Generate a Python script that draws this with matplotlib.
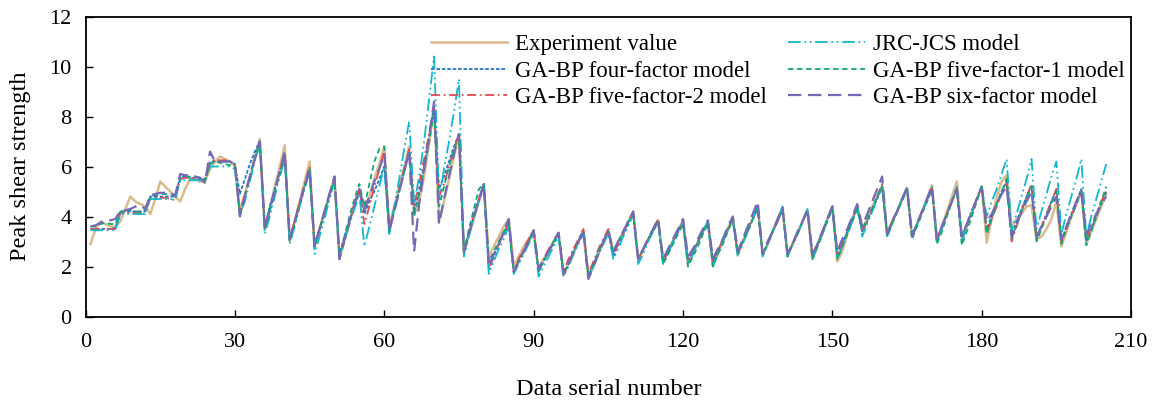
import numpy as np
import matplotlib
matplotlib.use('Agg')
import matplotlib.pyplot as plt

plt.rcParams['font.family'] = ['Liberation Serif', 'DejaVu Serif']

# Data (serial numbers 1..205)

experiment = [
    2.9, 3.5, 3.8, 3.7, 3.6, 3.6,
    3.8, 4.3, 4.8, 4.6, 4.5, 4.4,
    4.1, 4.7, 5.4, 5.2, 5.0, 4.8,
    4.6, 5.1, 5.5, 5.5, 5.4, 5.4,
    5.9, 6.2, 6.4, 6.3, 6.2, 6.0,
    4.2, 4.9, 5.6, 6.4, 7.1,
    3.5, 4.3, 5.2, 6.0, 6.85,
    3.0, 3.8, 4.6, 5.4, 6.2,
    2.8, 3.5, 4.2, 4.9, 5.6,
    2.3, 3.1, 3.8, 4.5, 5.1,
    4.2, 4.8, 5.5, 6.1, 6.8,
    3.6, 4.4, 5.2, 6.0, 6.8,
    4.1, 4.6, 5.6, 6.9, 8.4,
    3.8, 4.6, 5.5, 6.4, 7.3,
    2.5, 3.3, 3.9, 4.6, 5.3,
    2.4, 2.8, 3.2, 3.6, 3.9,
    2.0, 2.4, 2.8, 3.1, 3.45,
    1.9, 2.3, 2.6, 3.0, 3.35,
    1.65, 2.1, 2.5, 3.0, 3.45,
    1.55, 2.0, 2.5, 3.0, 3.45,
    2.6, 3.0, 3.4, 3.8, 4.15,
    2.25, 2.65, 3.05, 3.45, 3.85,
    2.25, 2.65, 3.05, 3.45, 3.85,
    2.1, 2.5, 2.95, 3.4, 3.8,
    2.05, 2.5, 3.0, 3.5, 3.95,
    2.5, 3.0, 3.5, 3.9, 4.4,
    2.45, 2.9, 3.4, 3.9, 4.35,
    2.45, 2.9, 3.35, 3.8, 4.25,
    2.3, 2.8, 3.3, 3.9, 4.4,
    2.2, 2.6, 3.3, 3.9, 4.4,
    3.5, 3.9, 4.4, 4.8, 5.25,
    3.3, 3.8, 4.2, 4.7, 5.15,
    3.2, 3.7, 4.2, 4.7, 5.25,
    3.0, 3.6, 4.2, 4.8, 5.4,
    3.1, 3.6, 4.2, 4.7, 5.2,
    2.95, 3.9, 4.8, 5.4, 5.65,
    3.6, 3.9, 4.1, 4.4, 4.45,
    3.1, 3.2, 3.5, 3.9, 4.6,
    2.8, 3.4, 4.0, 4.5, 5.0,
    2.9, 3.4, 3.9, 4.4, 4.9,
]

jrc_jcs = [
    3.45, 3.45, 3.45, 3.45, 3.45, 3.45,
    4.1, 4.1, 4.1, 4.1, 4.1, 4.1,
    4.7, 4.7, 4.7, 4.7, 4.7, 4.7,
    5.45, 5.45, 5.45, 5.45, 5.45, 5.45,
    6.0, 6.0, 6.0, 6.0, 6.0, 5.9,
    4.1, 4.6, 5.4, 6.2, 6.9,
    3.3, 4.0, 4.8, 5.6, 6.3,
    2.9, 3.6, 4.4, 5.1, 5.8,
    2.5, 3.2, 3.9, 4.7, 5.4,
    2.3, 3.0, 3.7, 4.3, 4.9,
    2.8, 3.6, 4.4, 5.2, 6.0,
    3.3, 4.4, 5.5, 6.7, 7.8,
    4.5, 5.6, 7.0, 8.7, 10.4,
    4.7, 5.9, 7.0, 8.2, 9.5,
    2.4, 3.2, 4.0, 4.7, 5.3,
    1.7, 2.2, 2.7, 3.1, 3.6,
    1.7, 2.1, 2.5, 2.9, 3.3,
    1.6, 2.0, 2.4, 2.8, 3.2,
    1.6, 2.0, 2.5, 2.9, 3.3,
    1.6, 2.0, 2.5, 2.9, 3.3,
    2.3, 2.7, 3.2, 3.6, 4.1,
    2.1, 2.5, 3.0, 3.4, 3.8,
    2.1, 2.5, 3.0, 3.4, 3.8,
    2.1, 2.5, 3.0, 3.4, 3.8,
    2.0, 2.5, 3.0, 3.4, 3.9,
    2.4, 2.9, 3.4, 3.9, 4.4,
    2.4, 2.9, 3.4, 3.9, 4.4,
    2.4, 2.9, 3.3, 3.8, 4.3,
    2.3, 2.8, 3.3, 3.9, 4.4,
    2.3, 2.8, 3.3, 3.8, 4.4,
    3.2, 3.7, 4.2, 4.7, 5.2,
    3.2, 3.7, 4.2, 4.7, 5.2,
    3.2, 3.7, 4.2, 4.7, 5.2,
    3.0, 3.5, 4.1, 4.6, 5.2,
    3.0, 3.6, 4.1, 4.7, 5.2,
    4.0, 4.6, 5.1, 5.7, 6.3,
    3.4, 4.1, 4.8, 5.5, 6.3,
    3.5, 4.2, 4.9, 5.6, 6.2,
    3.3, 4.1, 4.8, 5.5, 6.3,
    3.2, 4.0, 4.7, 5.4, 6.1,
]

four_factor = [
    3.5, 3.5, 3.5, 3.5, 3.5, 3.55,
    4.2, 4.2, 4.2, 4.2, 4.2, 4.2,
    4.8, 4.8, 4.8, 4.8, 4.8, 4.8,
    5.6, 5.6, 5.55, 5.55, 5.5, 5.5,
    6.2, 6.2, 6.2, 6.2, 6.2, 6.1,
    4.9, 5.5, 6.1, 6.6, 7.0,
    3.6, 4.4, 5.1, 5.8, 6.5,
    3.1, 3.8, 4.5, 5.2, 5.8,
    2.9, 3.5, 4.1, 4.8, 5.5,
    2.5, 3.2, 3.8, 4.4, 5.0,
    4.1, 4.6, 5.0, 5.5, 6.0,
    3.5, 4.3, 5.0, 5.8, 6.6,
    4.2, 5.0, 6.0, 7.2, 8.4,
    5.1, 5.6, 6.2, 6.8, 7.3,
    2.6, 3.3, 4.0, 4.6, 5.2,
    1.9, 2.4, 2.9, 3.3, 3.7,
    1.8, 2.2, 2.6, 3.0, 3.4,
    1.8, 2.2, 2.6, 2.9, 3.3,
    1.7, 2.1, 2.6, 3.0, 3.4,
    1.6, 2.1, 2.5, 3.0, 3.4,
    2.4, 2.9, 3.3, 3.7, 4.1,
    2.3, 2.7, 3.1, 3.5, 3.8,
    2.2, 2.6, 3.0, 3.4, 3.8,
    2.2, 2.6, 3.0, 3.4, 3.8,
    2.2, 2.6, 3.1, 3.5, 3.9,
    2.5, 3.0, 3.4, 3.9, 4.4,
    2.5, 2.9, 3.4, 3.8, 4.3,
    2.4, 2.9, 3.3, 3.8, 4.2,
    2.4, 2.9, 3.4, 3.9, 4.4,
    2.4, 2.9, 3.4, 3.9, 4.4,
    3.4, 3.8, 4.3, 4.7, 5.2,
    3.3, 3.8, 4.2, 4.7, 5.1,
    3.3, 3.7, 4.2, 4.6, 5.1,
    3.1, 3.6, 4.1, 4.6, 5.1,
    3.2, 3.7, 4.2, 4.7, 5.2,
    3.5, 4.0, 4.5, 5.0, 5.4,
    3.2, 3.8, 4.3, 4.8, 5.2,
    3.1, 3.6, 4.1, 4.6, 5.1,
    3.0, 3.6, 4.1, 4.6, 5.1,
    3.0, 3.5, 4.0, 4.5, 5.0,
]

five_factor_1 = [
    3.6, 3.6, 3.7, 3.75, 3.7, 3.7,
    4.2, 4.25, 4.25, 4.2, 4.2, 4.3,
    4.8, 4.85, 4.9, 4.9, 4.9, 4.85,
    5.5, 5.6, 5.6, 5.6, 5.55, 5.45,
    6.1, 6.2, 6.15, 6.1, 6.05, 6.0,
    4.0, 4.8, 5.6, 6.3, 7.0,
    3.5, 4.2, 5.0, 5.7, 6.4,
    3.0, 3.7, 4.5, 5.2, 5.9,
    2.8, 3.5, 4.2, 4.9, 5.5,
    2.4, 3.2, 4.0, 4.7, 5.3,
    4.4, 5.3, 6.2, 6.7, 6.8,
    3.4, 4.2, 5.0, 5.8, 6.6,
    4.0, 4.9, 5.9, 7.0, 8.2,
    4.4, 5.2, 6.0, 6.7, 7.2,
    2.6, 3.5, 4.3, 5.1, 5.3,
    2.2, 2.6, 3.0, 3.4, 3.8,
    1.8, 2.2, 2.6, 3.0, 3.4,
    1.8, 2.2, 2.6, 3.0, 3.3,
    1.7, 2.1, 2.6, 3.0, 3.4,
    1.6, 2.1, 2.6, 3.0, 3.4,
    2.6, 3.0, 3.4, 3.8, 4.1,
    2.3, 2.7, 3.1, 3.4, 3.8,
    2.1, 2.5, 2.9, 3.3, 3.7,
    2.0, 2.4, 2.8, 3.3, 3.7,
    2.0, 2.5, 2.9, 3.4, 3.9,
    2.5, 3.0, 3.4, 3.9, 4.3,
    2.5, 2.9, 3.4, 3.8, 4.3,
    2.4, 2.9, 3.3, 3.8, 4.2,
    2.3, 2.8, 3.3, 3.8, 4.3,
    2.3, 2.8, 3.3, 3.8, 4.3,
    3.5, 3.9, 4.3, 4.8, 5.2,
    3.2, 3.7, 4.2, 4.6, 5.1,
    3.1, 3.6, 4.1, 4.6, 5.1,
    2.9, 3.4, 4.0, 4.6, 5.1,
    2.85, 3.4, 4.0, 4.6, 5.2,
    3.3, 3.9, 4.5, 5.0, 5.5,
    3.1, 3.7, 4.2, 4.7, 5.2,
    3.0, 3.5, 4.0, 4.5, 5.0,
    2.9, 3.5, 4.0, 4.5, 5.0,
    2.85, 3.4, 4.0, 4.6, 5.2,
]

five_factor_2 = [
    3.5, 3.5, 3.5, 3.5, 3.5, 3.5,
    4.15, 4.15, 4.15, 4.15, 4.15, 4.2,
    4.7, 4.75, 4.75, 4.75, 4.7, 4.65,
    5.5, 5.55, 5.55, 5.5, 5.45, 5.45,
    6.2, 6.25, 6.25, 6.25, 6.2, 6.1,
    4.2, 4.9, 5.6, 6.3, 7.0,
    3.5, 4.3, 5.0, 5.8, 6.5,
    3.1, 3.8, 4.6, 5.3, 6.0,
    2.8, 3.5, 4.2, 4.9, 5.5,
    2.3, 3.0, 3.7, 4.4, 5.1,
    3.7, 4.4, 5.2, 5.9, 6.6,
    3.5, 4.3, 5.1, 5.9, 6.7,
    4.4, 5.3, 6.3, 7.3, 8.3,
    4.8, 5.3, 6.0, 6.7, 7.3,
    2.6, 3.4, 4.1, 4.7, 5.3,
    1.9, 2.4, 2.9, 3.3, 3.8,
    1.8, 2.3, 2.7, 3.1, 3.45,
    1.9, 2.3, 2.7, 3.0, 3.35,
    1.8, 2.3, 2.7, 3.1, 3.5,
    1.7, 2.2, 2.7, 3.1, 3.5,
    2.5, 2.9, 3.3, 3.8, 4.2,
    2.3, 2.7, 3.1, 3.5, 3.9,
    2.2, 2.6, 3.0, 3.4, 3.8,
    2.2, 2.6, 3.0, 3.4, 3.8,
    2.2, 2.6, 3.1, 3.5, 3.9,
    2.5, 3.0, 3.5, 3.9, 4.4,
    2.5, 2.9, 3.4, 3.8, 4.3,
    2.5, 2.9, 3.3, 3.8, 4.2,
    2.4, 2.9, 3.4, 3.9, 4.4,
    2.4, 2.9, 3.4, 3.9, 4.4,
    3.4, 3.8, 4.3, 4.8, 5.3,
    3.3, 3.8, 4.2, 4.7, 5.1,
    3.2, 3.7, 4.2, 4.7, 5.2,
    3.1, 3.6, 4.1, 4.6, 5.1,
    3.2, 3.7, 4.2, 4.7, 5.2,
    3.4, 3.9, 4.4, 4.9, 5.4,
    3.0, 3.6, 4.2, 4.8, 5.3,
    3.2, 3.6, 4.1, 4.6, 5.1,
    3.0, 3.5, 4.0, 4.5, 5.0,
    3.1, 3.6, 4.1, 4.6, 5.0,
]

six_factor = [
    3.6, 3.65, 3.75, 3.85, 3.85, 3.9,
    4.25, 4.25, 4.3, 4.4, 4.45, 4.3,
    4.85, 4.9, 4.95, 4.95, 4.9, 4.85,
    5.7, 5.65, 5.65, 5.6, 5.55, 5.35,
    6.6, 6.2, 6.2, 6.2, 6.2, 6.1,
    4.0, 4.8, 5.6, 6.3, 7.0,
    3.5, 4.3, 5.0, 5.8, 6.6,
    3.1, 3.8, 4.5, 5.2, 5.9,
    2.8, 3.5, 4.2, 4.9, 5.6,
    2.3, 3.1, 3.8, 4.5, 5.1,
    4.3, 4.8, 5.4, 5.9, 6.5,
    3.4, 4.2, 5.0, 5.8, 6.6,
    2.6, 4.5, 5.9, 7.2, 8.6,
    3.7, 4.7, 5.6, 6.5, 7.3,
    2.6, 3.3, 4.0, 4.7, 5.3,
    2.0, 2.5, 2.9, 3.4, 3.9,
    1.8, 2.2, 2.6, 3.0, 3.45,
    1.9, 2.3, 2.6, 3.0, 3.35,
    1.7, 2.1, 2.6, 3.0, 3.45,
    1.5, 2.0, 2.5, 3.0, 3.45,
    2.6, 3.0, 3.4, 3.8, 4.2,
    2.3, 2.7, 3.1, 3.5, 3.9,
    2.3, 2.7, 3.1, 3.5, 3.9,
    2.4, 2.7, 3.1, 3.5, 3.85,
    2.3, 2.7, 3.1, 3.6, 4.0,
    2.6, 3.1, 3.6, 4.1, 4.6,
    2.5, 3.0, 3.4, 3.9, 4.35,
    2.5, 2.9, 3.4, 3.8, 4.3,
    2.5, 2.9, 3.4, 3.9, 4.4,
    2.6, 3.1, 3.5, 4.0, 4.5,
    3.6, 4.1, 4.6, 5.1, 5.6,
    3.3, 3.8, 4.2, 4.7, 5.15,
    3.2, 3.7, 4.2, 4.7, 5.2,
    3.1, 3.6, 4.1, 4.6, 5.1,
    3.2, 3.7, 4.2, 4.7, 5.1,
    3.8, 4.1, 4.5, 4.9, 5.2,
    3.2, 3.7, 4.2, 4.6, 5.0,
    3.2, 3.6, 4.0, 4.4, 4.8,
    3.1, 3.6, 4.1, 4.6, 5.0,
    3.3, 3.7, 4.1, 4.5, 4.8,
]

serial = np.arange(1, len(experiment) + 1)

# Plot

fig = plt.figure(figsize=(11.53, 4.03), dpi=100)
ax = fig.add_axes([0.0742, 0.2146, 0.9068, 0.7444])

ax.plot(serial, experiment, color='#D9BC8C', lw=1.8, label='Experiment value')
ax.plot(serial, four_factor, color='#1F78C8', lw=1.3, ls=(0, (2, 1)),
        label='GA-BP four-factor model')
ax.plot(serial, five_factor_2, color='#E8474C', lw=1.3, ls=(0, (5, 2, 1, 2)),
        label='GA-BP five-factor-2 model')
ax.plot(serial, jrc_jcs, color='#10B8D0', lw=1.3, ls=(0, (7, 2, 1, 2, 1, 2)),
        label='JRC-JCS model')
ax.plot(serial, five_factor_1, color='#10A870', lw=1.3, ls=(0, (3, 2)),
        label='GA-BP five-factor-1 model')
ax.plot(serial, six_factor, color='#7468B8', lw=1.6, ls=(0, (6, 3)),
        label='GA-BP six-factor model')

ax.set_xlim(0, 210)
ax.set_ylim(0, 12)
ax.set_xticks(np.arange(0, 211, 30))
ax.set_yticks(np.arange(0, 13, 2))
ax.tick_params(direction='in', length=5, width=1, labelsize=16,
               top=False, right=False)
ax.tick_params(axis='x', pad=12)
ax.tick_params(axis='y', pad=10)
for s in ax.spines.values():
    s.set_linewidth(1.3)

ax.set_xlabel('Data serial number', fontsize=17.5, labelpad=19)
ax.set_ylabel('Peak shear strength', fontsize=17.5, labelpad=13)

ax.legend(loc='upper right', ncol=2, frameon=False, fontsize=16.5,
          handlelength=3.35, handletextpad=0.35, columnspacing=0.9,
          labelspacing=0.25, borderaxespad=0.35,
          bbox_to_anchor=(1.01, 1.0))

fig.savefig('out.png', dpi=100)
